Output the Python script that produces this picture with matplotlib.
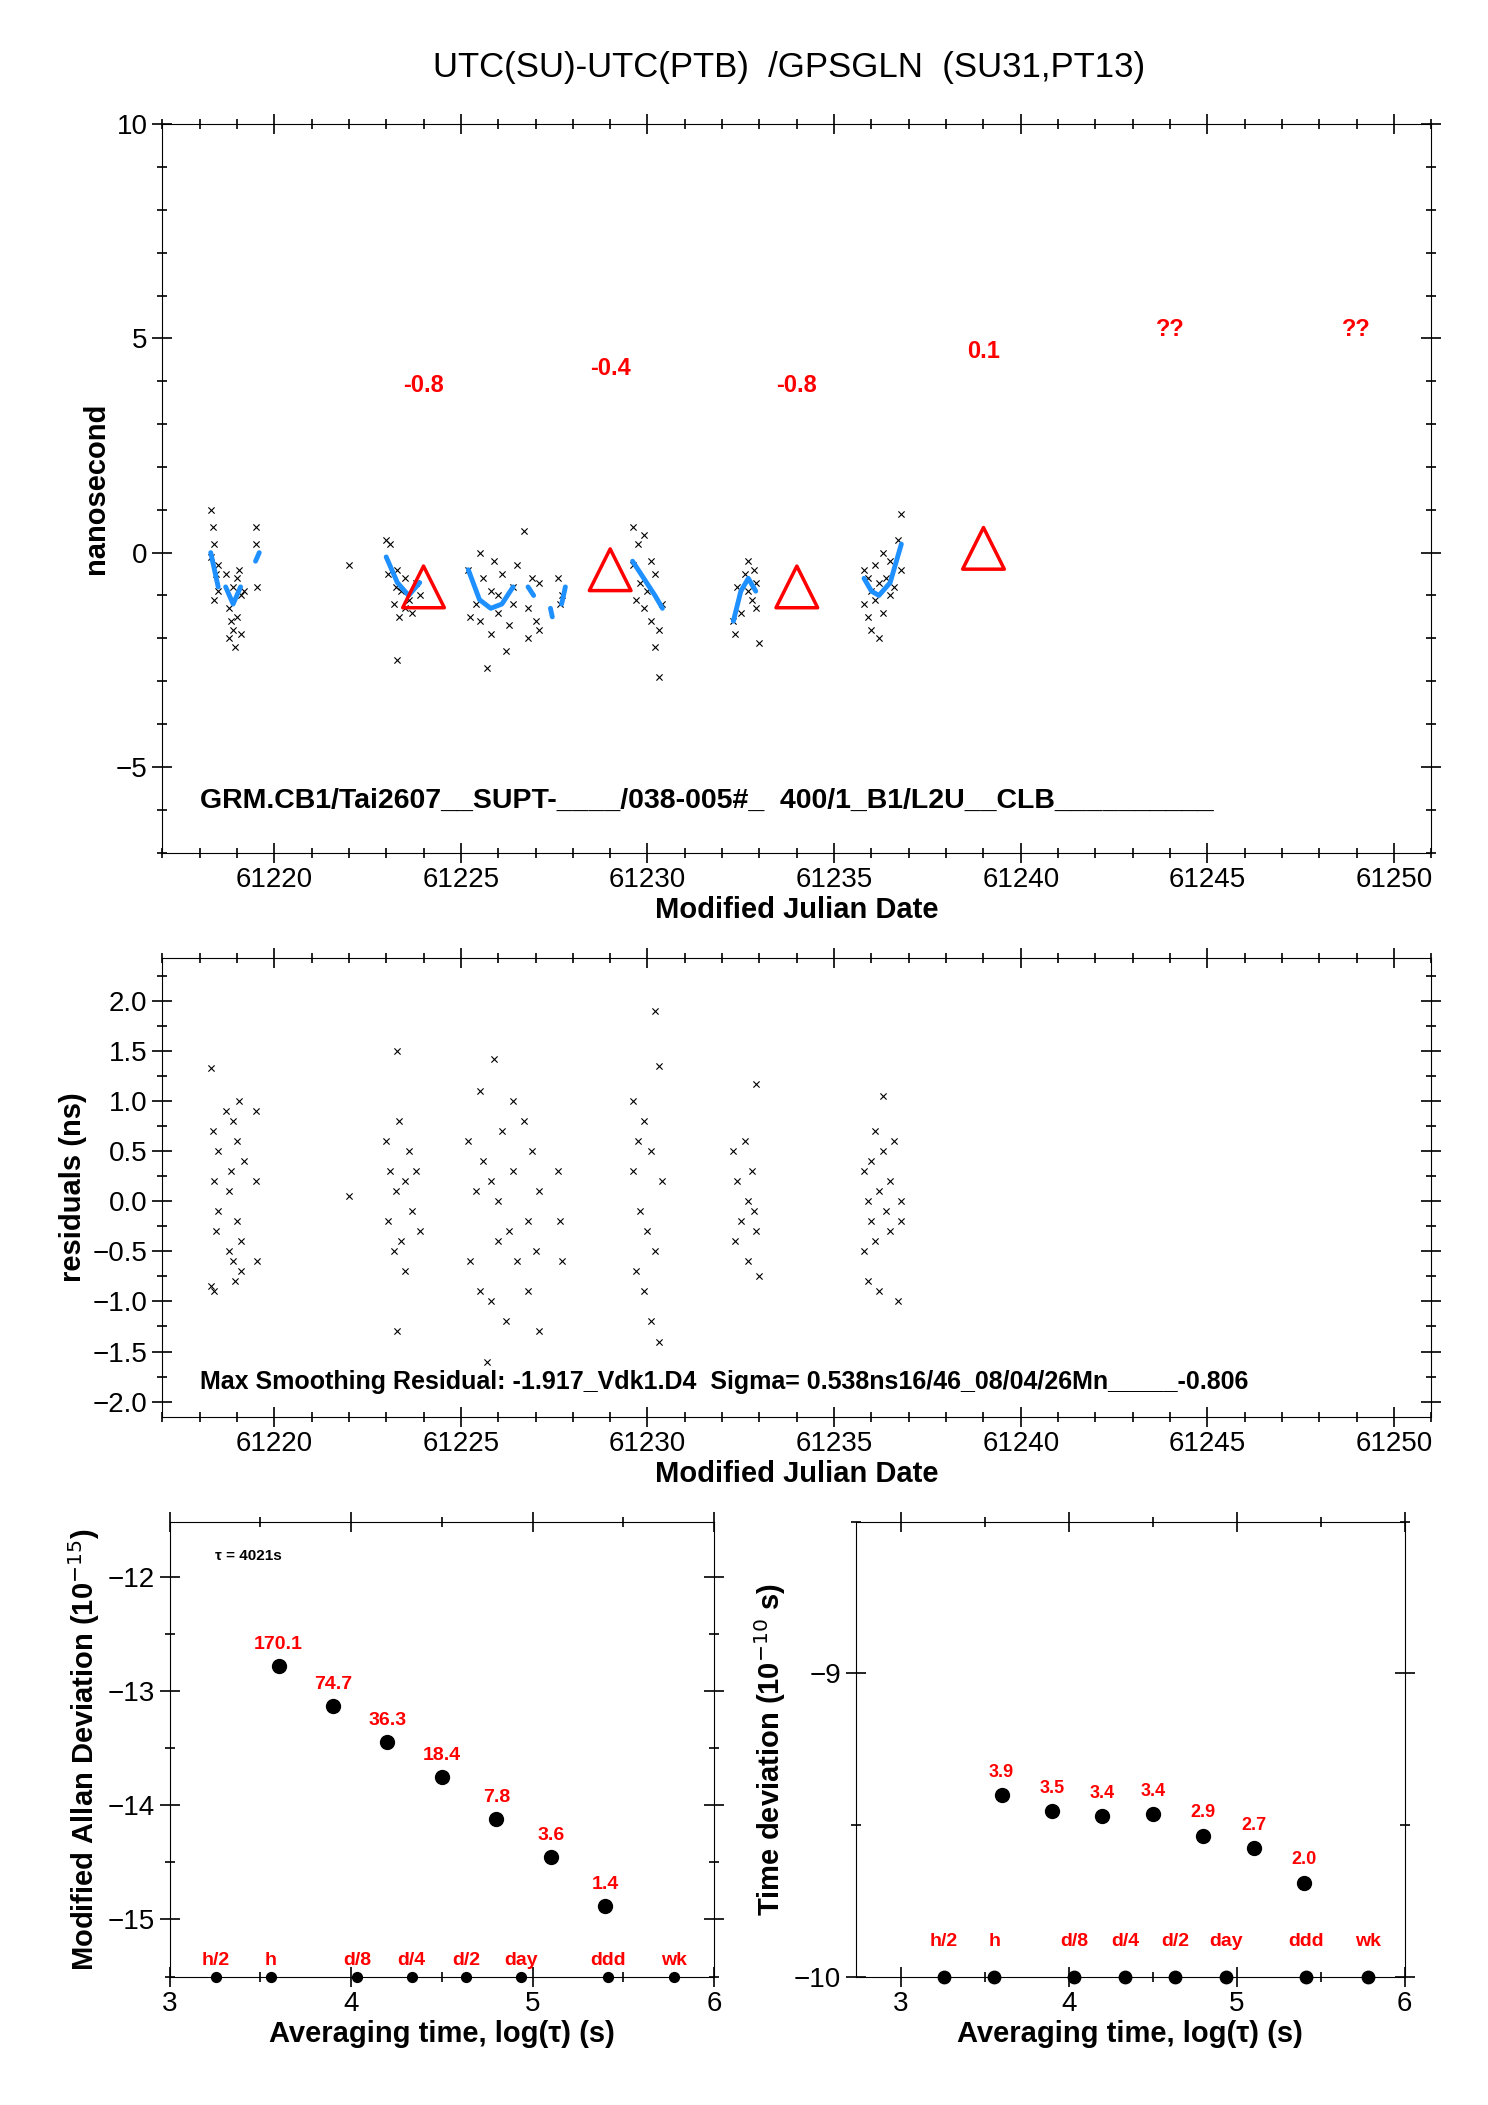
import numpy as np
import matplotlib.pyplot as plt
from matplotlib.ticker import MultipleLocator

plt.rcParams['font.family'] = ['Liberation Sans', 'DejaVu Sans']

# ---- data: raw time differences (ns) and residuals (ns)
mjd = [61218.3, 61218.3, 61218.35, 61218.4, 61218.4, 61218.45, 61218.5, 61218.5,
       61218.7, 61218.8, 61218.8, 61218.85, 61218.9, 61218.9, 61218.95, 61219.0,
       61219.0, 61219.05, 61219.1, 61219.1, 61219.2, 61219.5, 61219.5, 61219.55,
       61222.0,
       61223.0, 61223.05, 61223.1, 61223.2, 61223.25, 61223.3, 61223.3, 61223.35,
       61223.4, 61223.5, 61223.5, 61223.6, 61223.7, 61223.8, 61223.9,
       61225.2, 61225.25, 61225.4, 61225.5, 61225.5, 61225.6, 61225.7, 61225.8,
       61225.8, 61225.9, 61226.0, 61226.0, 61226.1, 61226.2, 61226.3, 61226.4,
       61226.4, 61226.5, 61226.7, 61226.8, 61226.8, 61226.9, 61227.0, 61227.1,
       61227.1, 61227.6, 61227.65, 61227.7,
       61229.6, 61229.6, 61229.7, 61229.75, 61229.8, 61229.9, 61229.9, 61230.0,
       61230.1, 61230.1, 61230.2, 61230.2, 61230.3, 61230.3, 61230.4,
       61232.3, 61232.35, 61232.4, 61232.5, 61232.6, 61232.7, 61232.7, 61232.8,
       61232.85, 61232.9, 61232.9, 61233.0,
       61235.8, 61235.8, 61235.9, 61235.9, 61236.0, 61236.0, 61236.1, 61236.1,
       61236.2, 61236.2, 61236.3, 61236.3, 61236.4, 61236.5, 61236.5, 61236.6,
       61236.7, 61236.8, 61236.8]
raw_ns = [1.0, -0.1, 0.6, 0.2, -1.1, -0.5, -0.3, -0.9, -0.5, -1.3, -2.0, -1.6,
          -1.8, -0.8, -2.2, -1.5, -0.6, -0.4, -1.0, -1.9, -0.9, 0.6, 0.2, -0.8,
          -0.3,
          0.3, -0.5, 0.2, -1.2, -0.8, -2.5, -0.4, -1.5, -0.9, -0.6, -1.3, -1.1,
          -1.4, -0.7, -1.0,
          -0.4, -1.5, -1.2, 0.0, -1.6, -0.6, -2.7, -0.9, -1.9, -0.2, -1.4, -1.0,
          -0.5, -2.3, -1.7, -0.8, -1.2, -0.3, 0.5, -1.3, -2.0, -0.6, -1.6, -1.8,
          -0.7, -0.6, -1.2, -1.0,
          0.6, -0.3, -1.1, 0.2, -0.7, -1.3, 0.4, -0.9, -1.6, -0.2, -2.2, -0.5,
          -2.9, -1.8, -1.2,
          -1.6, -1.9, -0.8, -1.4, -0.5, -0.9, -0.2, -1.1, -0.4, -1.3, -0.7, -2.1,
          -0.4, -1.2, -0.6, -1.5, -0.9, -1.8, -0.3, -1.1, -0.7, -2.0, -1.4, 0.0,
          -0.6, -1.0, -0.2, -0.8, 0.3, -0.4, 0.9]
resid_ns = [1.33, -0.85, 0.7, 0.2, -0.9, -0.3, 0.5, -0.1, 0.9, 0.1, -0.5, 0.3,
            -0.6, 0.8, -0.8, 0.6, -0.2, 1.0, -0.4, -0.7, 0.4, 0.9, 0.2, -0.6,
            0.05,
            0.6, -0.2, 0.3, -0.5, 0.1, 1.5, -1.3, 0.8, -0.4, 0.2, -0.7, 0.5,
            -0.1, 0.3, -0.3,
            0.6, -0.6, 0.1, 1.1, -0.9, 0.4, -1.6, 0.2, -1.0, 1.42, 0.0, -0.4,
            0.7, -1.2, -0.3, 1.0, 0.3, -0.6, 0.8, -0.2, -0.9, 0.5, -0.5, 0.1,
            -1.3, 0.3, -0.2, -0.6,
            1.0, 0.3, -0.7, 0.6, -0.1, -0.9, 0.8, -0.3, -1.2, 0.5, -0.5, 1.9,
            1.35, -1.4, 0.2,
            0.5, -0.4, 0.2, -0.2, 0.6, 0.0, -0.6, 0.3, -0.1, 1.17, -0.3, -0.75,
            0.3, -0.5, 0.0, -0.8, 0.4, -0.2, 0.7, -0.4, 0.1, -0.9, 0.5, 1.05,
            -0.1, 0.2, -0.3, 0.6, -1.0, 0.0, -0.2]

# smoothing curve segments (MJD, ns)
smooth_segs = [
    ([61218.3, 61218.4, 61218.5], [-0.0, -0.4, -0.8]),
    ([61218.7, 61218.9, 61219.1], [-0.8, -1.2, -0.8]),
    ([61219.5, 61219.6], [-0.2, 0.0]),
    ([61223.0, 61223.3, 61223.6, 61223.9], [-0.1, -0.7, -1.0, -0.7]),
    ([61225.2, 61225.5, 61225.8, 61226.1, 61226.4], [-0.4, -1.1, -1.3, -1.2, -0.8]),
    ([61226.8, 61226.95], [-0.8, -1.0]),
    ([61227.4, 61227.45], [-1.3, -1.5]),
    ([61227.7, 61227.8], [-1.2, -0.8]),
    ([61229.6, 61229.9, 61230.2, 61230.4], [-0.2, -0.6, -1.0, -1.3]),
    ([61232.3, 61232.5, 61232.7, 61232.9], [-1.6, -0.9, -0.6, -0.9]),
    ([61235.8, 61236.0, 61236.2, 61236.5, 61236.8], [-0.6, -0.9, -1.0, -0.7, 0.2]),
]

tri_mjd = [61224, 61229, 61234, 61239]
tri_ns = [-0.8, -0.4, -0.8, 0.1]
mean_mjd = [61224, 61229, 61234, 61239, 61244, 61249]
mean_y = [3.9, 4.3, 3.9, 4.7, 5.2, 5.2]
mean_lbl = ['-0.8', '-0.4', '-0.8', '0.1', '??', '??']

log_tau = [3.6, 3.9, 4.2, 4.5, 4.8, 5.1, 5.4]
mdev = [-12.78, -13.13, -13.45, -13.75, -14.12, -14.45, -14.88]
mdev_lbl = ['170.1', '74.7', '36.3', '18.4', '7.8', '3.6', '1.4']
tdev = [-9.40, -9.455, -9.47, -9.465, -9.535, -9.575, -9.69]
tdev_lbl = ['3.9', '3.5', '3.4', '3.4', '2.9', '2.7', '2.0']
mark_x = [3.255, 3.556, 4.033, 4.334, 4.635, 4.936, 5.414, 5.781]
mark_lbl = ['h/2', 'h', 'd/8', 'd/4', 'd/2', 'day', 'ddd', 'wk']

RED = '#ff0000'
BLUE = '#1e90ff'


def style(ax, xmaj, xmin, ymaj, ymin):
    ax.xaxis.set_major_locator(MultipleLocator(xmaj))
    ax.xaxis.set_minor_locator(MultipleLocator(xmin))
    ax.yaxis.set_major_locator(MultipleLocator(ymaj))
    ax.yaxis.set_minor_locator(MultipleLocator(ymin))
    ax.tick_params(which='both', direction='inout', top=True, right=True,
                   labelsize=20)
    ax.tick_params(which='major', length=14, width=1.2)
    ax.tick_params(which='minor', length=7, width=1.2)
    for s in ax.spines.values():
        s.set_linewidth(0.8)


fig = plt.figure(figsize=(14.88, 21.05), dpi=100)
fig.text(0.53, 0.968, 'UTC(SU)-UTC(PTB)  /GPSGLN  (SU31,PT13)', ha='center',
         va='center', fontsize=25)

# ---- top panel
ax1 = fig.add_axes([0.109, 0.595, 0.853, 0.346])
ax1.scatter(mjd, raw_ns, marker='x', s=20, c='k', linewidths=0.8)
for sx, sy in smooth_segs:
    ax1.plot(sx, sy, color=BLUE, lw=3.5, solid_capstyle='round')
ax1.scatter(tri_mjd, tri_ns, marker='^', s=900, facecolors='none',
            edgecolors=RED, linewidths=2.5, zorder=5)
for x, y, t in zip(mean_mjd, mean_y, mean_lbl):
    ax1.text(x, y, t, color=RED, fontsize=17, fontweight='bold', ha='center',
             va='center')
ax1.text(61218, -5.8, 'GRM.CB1/Tai2607__SUPT-____/038-005#_  400/1_B1/L2U__CLB__________',
         fontsize=20.5, fontweight='bold', va='center')
ax1.set_xlim(61217, 61251)
ax1.set_ylim(-7, 10)
style(ax1, 5, 1, 5, 1)
ax1.set_ylabel('nanosecond', fontsize=21, fontweight='bold')
ax1.set_xlabel('Modified Julian Date', fontsize=21, fontweight='bold', labelpad=2)

# ---- residual panel
ax2 = fig.add_axes([0.109, 0.327, 0.853, 0.218])
ax2.scatter(mjd, resid_ns, marker='x', s=20, c='k', linewidths=0.8)
ax2.text(61218, -1.8, 'Max Smoothing Residual: -1.917_Vdk1.D4  Sigma= 0.538ns16/46_08/04/26Mn_____-0.806',
         fontsize=18, fontweight='bold', va='center')
ax2.set_xlim(61217, 61251)
ax2.set_ylim(-2.15, 2.43)
style(ax2, 5, 1, 0.5, 0.25)
ax2.yaxis.set_major_formatter(plt.FuncFormatter(lambda v, p: f'{v:.1f}'.replace('-', '\u2212')))
ax2.set_ylabel('residuals (ns)', fontsize=21, fontweight='bold')
ax2.set_xlabel('Modified Julian Date', fontsize=21, fontweight='bold', labelpad=2)

# ---- Modified Allan deviation
ax3 = fig.add_axes([0.114, 0.061, 0.366, 0.216])
ax3.scatter(log_tau, mdev, s=100, c='k', zorder=4)
for x, y, t in zip(log_tau, mdev, mdev_lbl):
    ax3.text(x, y + 0.15, t, color=RED, fontsize=14, fontweight='bold', ha='center')
ax3.scatter(mark_x, [-15.5] * len(mark_x), s=50, c='k', clip_on=False, zorder=4)
for x, t in zip(mark_x, mark_lbl):
    ax3.text(x, -15.4, t, color=RED, fontsize=14, fontweight='bold', ha='center')
ax3.text(3.25, -11.85, '\u03c4 = 4021s', fontsize=11, fontweight='bold')
ax3.set_xlim(3, 6)
ax3.set_ylim(-15.5, -11.52)
style(ax3, 1, 0.5, 1, 0.5)
ax3.set_ylabel('Modified Allan Deviation (10$^{-15}$)', fontsize=21, fontweight='bold')
ax3.set_xlabel('Averaging time, log(\u03c4) (s)', fontsize=21, fontweight='bold', labelpad=2)

# ---- Time deviation
ax4 = fig.add_axes([0.575, 0.061, 0.369, 0.216])
ax4.scatter(log_tau, tdev, s=100, c='k', zorder=4)
for x, y, t in zip(log_tau, tdev, tdev_lbl):
    ax4.text(x, y + 0.06, t, color=RED, fontsize=13, fontweight='bold', ha='center')
ax4.scatter(mark_x, [-10] * len(mark_x), s=80, c='k', clip_on=False, zorder=4)
for x, t in zip(mark_x, mark_lbl):
    ax4.text(x, -9.9, t, color=RED, fontsize=14, fontweight='bold', ha='center')
ax4.set_xlim(2.73, 6)
ax4.set_ylim(-10, -8.5)
style(ax4, 1, 0.5, 1, 0.5)
ax4.set_ylabel('Time deviation (10$^{-10}$ s)', fontsize=21, fontweight='bold')
ax4.set_xlabel('Averaging time, log(\u03c4) (s)', fontsize=21, fontweight='bold', labelpad=2)

fig.savefig('out.png', dpi=100)
